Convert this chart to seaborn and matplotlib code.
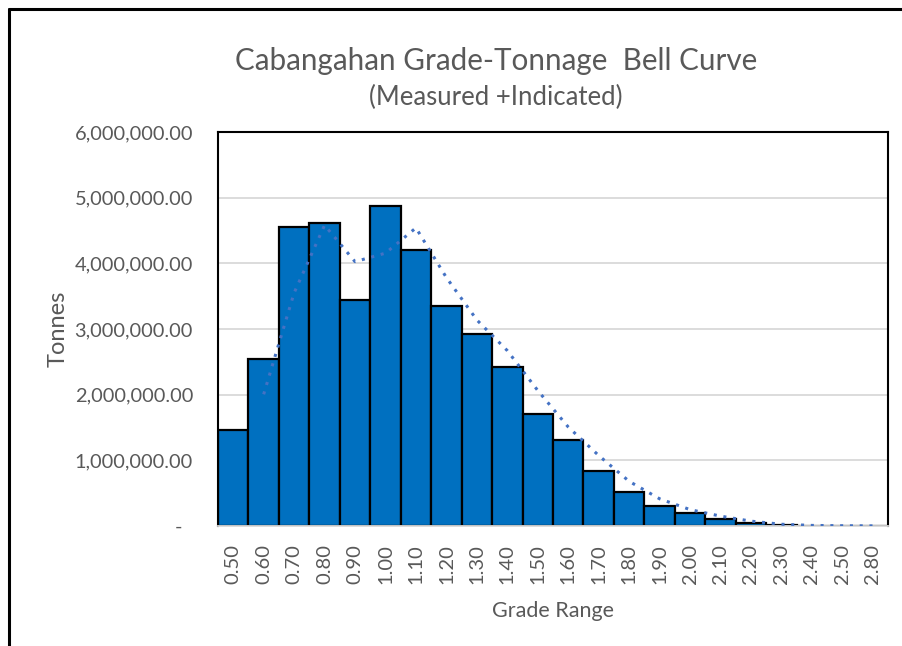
import numpy as np
import pandas as pd
import matplotlib
matplotlib.use('Agg')
import matplotlib.pyplot as plt
import seaborn as sns
from matplotlib.ticker import FuncFormatter, MultipleLocator

# grade bins and tonnes
grade_labels = ['0.50', '0.60', '0.70', '0.80', '0.90', '1.00', '1.10', '1.20',
                '1.30', '1.40', '1.50', '1.60', '1.70', '1.80', '1.90', '2.00',
                '2.10', '2.20', '2.30', '2.40', '2.50', '2.80']
tonnes = [1460000, 2550000, 4550000, 4610000, 3440000, 4870000, 4210000, 3355000,
          2920000, 2420000, 1705000, 1310000, 837000, 523000, 305000, 193000,
          107000, 40000, 12000, 5000, 2000, 1000]

TEXT = '#595959'

df = pd.DataFrame({'Grade': grade_labels, 'Tonnes': tonnes})
# 2-period moving average trendline
df['MA'] = df['Tonnes'].rolling(2).mean()

sns.set_style('white')
plt.rcParams['font.family'] = ['Lato', 'DejaVu Sans']

fig = plt.figure(figsize=(9.03, 6.46), dpi=100)
ax = fig.add_axes([0.2414, 0.1858, 0.7420, 0.6099])

sns.barplot(data=df, x='Grade', y='Tonnes', color='#0070C0', width=1.0,
            edgecolor='black', linewidth=1.6, saturation=1, ax=ax, zorder=2)

pos = np.arange(len(df))
sns.lineplot(x=pos[1:], y=df['MA'].values[1:], ax=ax, color='#4472C4',
             linestyle=(0, (1, 2.2)), linewidth=2.2, zorder=3)

ax.set_xlim(-0.5, len(df) - 0.5)
ax.set_ylim(0, 6000000)
ax.yaxis.set_major_locator(MultipleLocator(1000000))


def fmt(v, _):
    if v == 0:
        return '-  '
    return '{:,.2f}'.format(v)


ax.yaxis.set_major_formatter(FuncFormatter(fmt))
ax.grid(axis='y', color='#D9D9D9', linewidth=1.3, zorder=0)
ax.set_axisbelow(True)

for s in ['left', 'top', 'right']:
    ax.spines[s].set_color('black')
    ax.spines[s].set_linewidth(1.5)
ax.spines['bottom'].set_color('#D9D9D9')
ax.spines['bottom'].set_linewidth(1.3)

ax.tick_params(axis='both', length=0, colors=TEXT)
ax.tick_params(axis='x', rotation=90, pad=13, labelsize=14.5)
ax.tick_params(axis='y', pad=18, labelsize=14.4)

ax.set_xlabel('Grade Range', color=TEXT, fontsize=15.5, labelpad=12)
ax.set_ylabel('Tonnes', color=TEXT, fontsize=17, labelpad=4)

fig.text(0.549, 0.906, 'Cabangahan Grade-Tonnage  Bell Curve', ha='center',
         va='center', fontsize=21.3, color=TEXT)
fig.text(0.549, 0.849, '(Measured +Indicated)', ha='center', va='center',
         fontsize=18.5, color=TEXT)

# outer chart frame (top and left edges visible)
fig.add_artist(plt.Line2D([9.5 / 903, 1.0], [1 - 8.5 / 646, 1 - 8.5 / 646],
                          transform=fig.transFigure, color='black', linewidth=2.2))
fig.add_artist(plt.Line2D([9.5 / 903, 9.5 / 903], [0.0, 1 - 8.5 / 646],
                          transform=fig.transFigure, color='black', linewidth=2.2))

fig.savefig('out.png', dpi=100)
